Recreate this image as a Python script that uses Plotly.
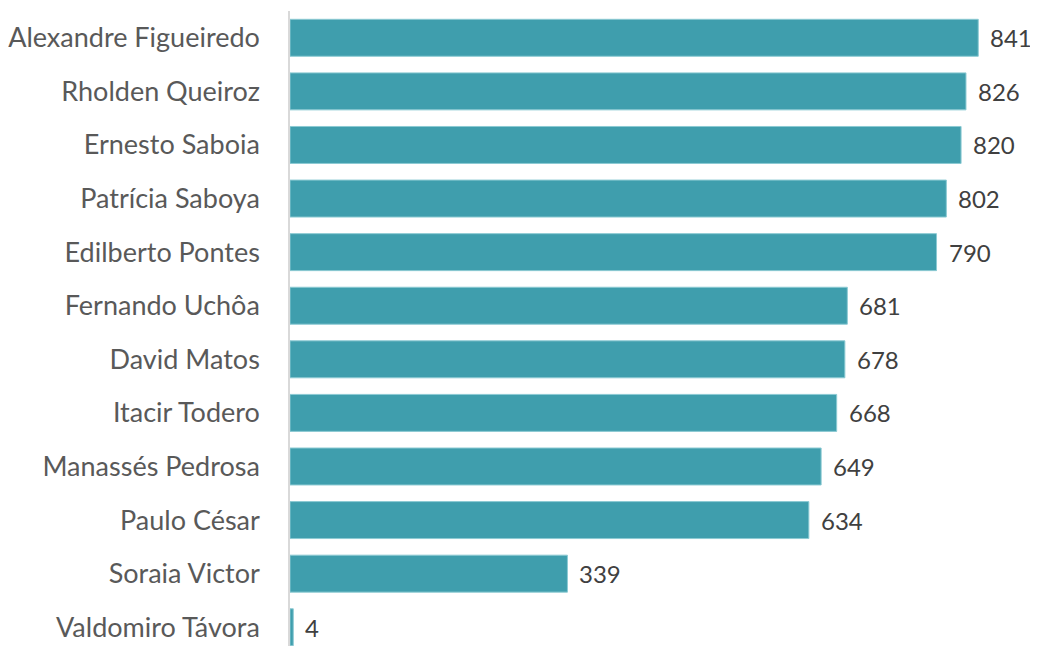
import plotly.graph_objects as go

# data
names = ['Alexandre Figueiredo', 'Rholden Queiroz', 'Ernesto Saboia', 'Patrícia Saboya',
         'Edilberto Pontes', 'Fernando Uchôa', 'David Matos', 'Itacir Todero',
         'Manassés Pedrosa', 'Paulo César', 'Soraia Victor', 'Valdomiro Távora']
votes = [841, 826, 820, 802, 790, 681, 678, 668, 649, 634, 339, 4]

bar_color = '#3F9EAD'
font_family = 'Lato, sans-serif'

fig = go.Figure()
fig.add_trace(go.Bar(
    x=votes,
    y=names,
    orientation='h',
    marker=dict(color=bar_color, line=dict(color='#8CCAD3', width=1)),
    width=0.69,
    hoverinfo='x+y',
))

# value labels just to the right of each bar
for n, v in zip(names, votes):
    fig.add_annotation(x=v, y=n, text=str(v), showarrow=False,
                       xanchor='left', yanchor='middle', xshift=10,
                       font=dict(size=24, color='#404040', family=font_family))

# page body has an 8px margin, so the figure is 8px smaller than the window
fig.update_layout(
    width=1030, height=638,
    plot_bgcolor='white', paper_bgcolor='white',
    margin=dict(l=279, r=0, t=3, b=0),
    showlegend=False,
    font=dict(family=font_family, size=27, color='#595959'),
    xaxis=dict(range=[0, 914], visible=False, showgrid=False, zeroline=False),
    yaxis=dict(
        categoryorder='array', categoryarray=names,
        range=[11.35, -0.5],
        showline=True, linecolor='#D9D9D9', linewidth=1.5,
        showgrid=False, zeroline=False,
        ticks='', ticklabelstandoff=23,
        tickfont=dict(size=27, color='#595959', family=font_family),
    ),
)

fig.write_html("out.html")
